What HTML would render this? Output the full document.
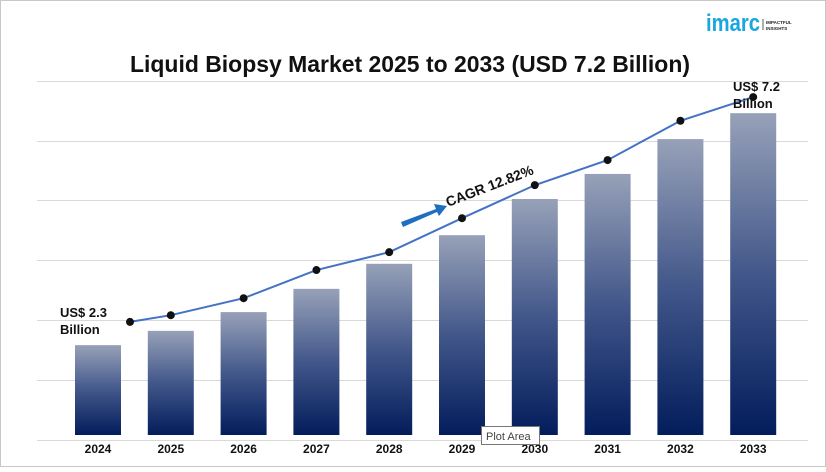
<!DOCTYPE html>
<html><head><meta charset="utf-8"><style>
body{margin:0;background:#fff;}
svg text{font-family:"Liberation Sans",sans-serif;}
</style></head><body>
<svg width="826" height="467" viewBox="0 0 826 467">
<defs>
<linearGradient id="bg" x1="0" y1="0" x2="0" y2="1">
<stop offset="0" stop-color="#97a1b8"/><stop offset="0.5" stop-color="#42578a"/><stop offset="1" stop-color="#031d5c"/>
</linearGradient>
</defs>
<rect x="0.5" y="0.5" width="825" height="466" fill="#fff" stroke="#c8c8c8"/>
<g>
<text x="706" y="31" font-size="24" font-weight="bold" fill="#1aa6e0" textLength="54" lengthAdjust="spacingAndGlyphs">imarc</text>
<line x1="763" y1="19" x2="763" y2="30" stroke="#333" stroke-width="0.8"/>
<text x="766" y="24" font-size="4.5" font-weight="bold" fill="#222">IMPACTFUL</text>
<text x="766" y="30" font-size="4.5" font-weight="bold" fill="#222">INSIGHTS</text>
</g>
<text x="410" y="72" text-anchor="middle" font-size="23" font-weight="bold" fill="#111" textLength="560" lengthAdjust="spacingAndGlyphs">Liquid Biopsy Market 2025 to 2033 (USD 7.2 Billion)</text>
<g id="grid"></g><g id="bars"></g><g id="line"></g><g id="labels"></g>
<g>
<polygon points="401,222 436,209 434,204 447,206 439,216 437,212 403,227" fill="#1f6fc0"/>
<text x="448" y="207" font-size="14" font-weight="bold" fill="#111" transform="rotate(-21 448 207)">CAGR 12.82%</text>
</g>
<text x="60" y="317" font-size="13" font-weight="bold" fill="#111">US$ 2.3</text>
<text x="60" y="334" font-size="13" font-weight="bold" fill="#111">Billion</text>
<text x="733" y="91" font-size="13" font-weight="bold" fill="#111">US$ 7.2</text>
<text x="733" y="108" font-size="13" font-weight="bold" fill="#111">Billion</text>
<g>
<rect x="481.5" y="426.5" width="58" height="18" fill="#fff" stroke="#777"/>
<text x="486" y="440" font-size="11" fill="#444">Plot Area</text>
</g>
</svg>
<script>
const categories=["2024","2025","2026","2027","2028","2029","2030","2031","2032","2033"];
const barValues=[2.01,2.33,2.75,3.27,3.83,4.47,5.28,5.84,6.62,7.2];
const lineValues=[2.53,2.68,3.06,3.69,4.09,4.85,5.59,6.15,7.03,7.56];
const gridTicks=[0,1.34,2.68,4.02,5.36,6.7,8.04];
const NS="http://www.w3.org/2000/svg";
const gx0=37,gx1=808,bx0=61.6,bx1=789.6,base=435,k=44.7;
const step=(bx1-bx0)/categories.length;
function xs(i){return bx0+step*(i+0.5);}
function ys(v){return base-v*k;}
function mk(t,a,p){const e=document.createElementNS(NS,t);for(const n in a)e.setAttribute(n,a[n]);p.appendChild(e);return e;}
const g=document.getElementById('grid');
gridTicks.forEach((t,i)=>{const y=Math.round(ys(t)+5)+0.5;
const l=mk('line',{x1:gx0,x2:gx1,y1:y,y2:y,stroke:'#d9d9d9','stroke-width':1},g);

});
const b=document.getElementById('bars'),lb=document.getElementById('labels');
categories.forEach((c,i)=>{
const r=mk('rect',{x:xs(i)-23,y:ys(barValues[i]),width:46,height:barValues[i]*k,fill:'url(#bg)'},b);


const t=mk('text',{x:xs(i),y:453,'text-anchor':'middle','font-size':12,'font-weight':'bold',fill:'#111'},lb);
t.textContent=c;


});
const lg=document.getElementById('line');
const pts=lineValues.map((v,i)=>[i===0?xs(0)+32:xs(i),ys(v)]);
const pl=mk('polyline',{points:pts.map(p=>p.join(',')).join(' '),fill:'none',stroke:'#4472c4','stroke-width':2},lg);


pts.forEach((p,i)=>{const c=mk('circle',{cx:p[0],cy:p[1],r:4,fill:'#111'},lg);

});
</script>
</body></html>
